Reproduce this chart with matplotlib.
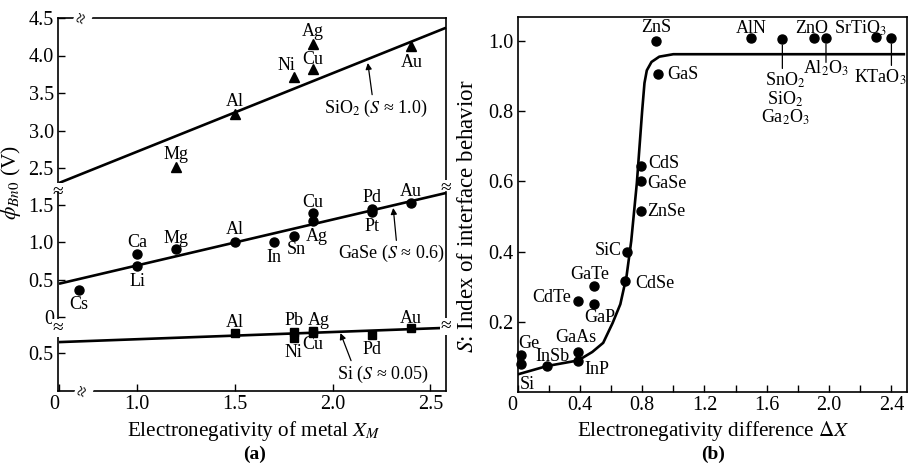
import matplotlib.pyplot as plt
import numpy as np

plt.rcParams['font.family'] = ['Liberation Serif', 'DejaVu Serif']
plt.rcParams['mathtext.fontset'] = 'stix'
plt.rcParams['font.size'] = 14.5
plt.rcParams['axes.linewidth'] = 1.2

# ---------------- (a) barrier height vs metal electronegativity
xm_sio2 = [1.2, 1.5, 1.8, 1.9, 1.9, 2.4]
phi_sio2 = [2.51, 3.22, 3.71, 3.82, 4.16, 4.13]
names_sio2 = ['Mg', 'Al', 'Ni', 'Cu', 'Ag', 'Au']

xm_gase = [0.7, 1.0, 1.0, 1.2, 1.5, 1.7, 1.8, 1.9, 1.9, 2.2, 2.2, 2.4]
phi_gase = [0.37, 0.68, 0.84, 0.91, 1.01, 1.0, 1.09, 1.39, 1.29, 1.45, 1.40, 1.53]
names_gase = ['Cs', 'Li', 'Ca', 'Mg', 'Al', 'In', 'Sn', 'Cu', 'Ag', 'Pd', 'Pt', 'Au']

xm_si = [1.5, 1.8, 1.8, 1.9, 1.9, 2.2, 2.4]
phi_si = [0.76, 0.78, 0.70, 0.79, 0.77, 0.74, 0.83]
names_si = ['Al', 'Pb', 'Ni', 'Ag', 'Cu', 'Pd', 'Au']

fit_x = [0.6, 2.58]
fit_sio2 = [2.30, 4.37]
fit_gase = [0.45, 1.66]
fit_si = [0.645, 0.835]

# ---------------- (b) index of interface behavior
dx_b = [0.89, 0.90, 1.50, 1.70, 1.90, 1.98, 2.30, 2.40, 0.79, 0.79, 0.79, 0.70,
        0.69, 0.49, 0.39, 0.49, 0.39, 0.39, 0.19, 0.02, 0.02]
s_b = [1.0, 0.905, 1.007, 1.004, 1.007, 1.007, 1.01, 1.007, 0.643, 0.60, 0.515, 0.40,
       0.316, 0.302, 0.26, 0.25, 0.115, 0.087, 0.075, 0.105, 0.08]
names_b = ['ZnS', 'GaS', 'AlN', 'SnO$_2$\nSiO$_2$\nGa$_2$O$_3$', 'ZnO', 'Al$_2$O$_3$',
           'SrTiO$_3$', 'KTaO$_3$', 'CdS', 'GaSe', 'ZnSe', 'SiC', 'CdSe', 'GaTe', 'CdTe',
           'GaP', 'GaAs', 'InP', 'InSb', 'Ge', 'Si']

curve_x = [0.0, 0.19, 0.39, 0.48, 0.55, 0.61, 0.66, 0.70, 0.73, 0.766, 0.80, 0.815,
           0.83, 0.86, 0.91, 1.0, 2.48]
curve_s = [0.05, 0.074, 0.09, 0.114, 0.14, 0.196, 0.25, 0.33, 0.43, 0.595, 0.80, 0.88,
           0.916, 0.94, 0.955, 0.962, 0.962]

# label offsets in pixels (dx, dy)
off_sio2 = [(0, 13), (0, 13), (-7, 12), (0, 10), (0, 12), (1, -17)]
off_gase = [(0, -15), (0, -15), (0, 12), (0, 11), (0, 12), (0, -15), (3, -14),
            (0, 11), (4, -16), (0, 11), (0, -14), (0, 11)]
off_si = [(0, 11), (0, 11), (0, -15), (6, 11), (0, -12), (0, -15), (0, 10)]
lab_b = {
    'ZnS': (0, 13, 'center', 'center'), 'GaS': (10, 0, 'left', 'center'),
    'AlN': (0, 10, 'center', 'center'), 'ZnO': (-2, 10, 'center', 'center'),
    'SrTiO$_3$': (-16, 9, 'center', 'center'),
    'SnO$_2$\nSiO$_2$\nGa$_2$O$_3$': (3, -31, 'center', 'top'),
    'Al$_2$O$_3$': (0, -30, 'center', 'center'), 'KTaO$_3$': (-11, -39, 'center', 'center'),
    'CdS': (8, 3, 'left', 'center'), 'GaSe': (7, -2, 'left', 'center'),
    'ZnSe': (7, 0, 'left', 'center'), 'SiC': (-5, 1, 'right', 'center'),
    'CdSe': (10, -2, 'left', 'center'), 'GaTe': (-4, 11, 'center', 'center'),
    'CdTe': (-7, 3, 'right', 'center'), 'GaP': (6, -13, 'center', 'center'),
    'GaAs': (-2, 14, 'center', 'center'), 'InP': (6, -8, 'left', 'center'),
    'InSb': (5, 9, 'center', 'center'), 'Ge': (-2, 12, 'left', 'center'),
    'Si': (-1, -21, 'left', 'center'),
}
leaders = {'SnO$_2$\nSiO$_2$\nGa$_2$O$_3$': 29, 'Al$_2$O$_3$': 24, 'KTaO$_3$': 27}

W, H = 911, 463
fig = plt.figure(figsize=(W / 100, H / 100), dpi=100)


def box(l, t, r, b):
    return [l / W, 1 - b / H, (r - l) / W, (b - t) / H]


ax_up = fig.add_axes(box(58, 18, 446, 192))
ax_mid = fig.add_axes(box(58, 192, 446, 328))
ax_lo = fig.add_axes(box(58, 328, 446, 391))
ax_b = fig.add_axes(box(517.5, 17, 907, 392))

for ax in (ax_up, ax_mid, ax_lo):
    ax.set_xlim(0.595, 2.58)
    ax.patch.set_alpha(0)
    ax.tick_params(direction='in', length=5, width=1, pad=3)
ax_up.set_ylim(2.18, 4.5)
ax_mid.set_ylim(-0.14, 1.673)
ax_lo.set_ylim(-0.007, 0.833)
ax_up.spines['bottom'].set_visible(False)
ax_mid.spines['top'].set_visible(False)
ax_mid.spines['bottom'].set_visible(False)
ax_lo.spines['top'].set_visible(False)
ax_up.set_xticks([])
ax_mid.set_xticks([])
ax_up.set_yticks([2.5, 3.0, 3.5, 4.0, 4.5], labels=['2.5', '3.0', '3.5', '4.0', '4.5'])
ax_mid.set_yticks([0, 0.5, 1.0, 1.5], labels=['0', '0.5', '1.0', '1.5'])
ax_lo.set_yticks([0.5], labels=['0.5'])
ax_lo.set_xticks([0.6, 1.0, 1.5, 2.0, 2.5], labels=['0', '1.0', '1.5', '2.0', '2.5'])
ax_lo.get_xticklabels()[0].set_ha('right')

sets = [(ax_up, xm_sio2, phi_sio2, names_sio2, off_sio2, fit_sio2, '^', 7),
        (ax_mid, xm_gase, phi_gase, names_gase, off_gase, fit_gase, 'o', 6.5),
        (ax_lo, xm_si, phi_si, names_si, off_si, fit_si, 's', 5.8)]
for ax, xs, ys, names, offs, fit, mk, ms in sets:
    ax.plot(fit_x, fit, color='k', lw=1.9, clip_on=False, solid_capstyle='butt')
    ax.plot(xs, ys, mk, color='k', ms=ms, clip_on=False)
    for x, y, n, (ox, oy) in zip(xs, ys, names, offs):
        ax.annotate(n, (x, y), xytext=(ox, oy), textcoords='offset pixels',
                    ha='center', va='center', fontsize=13)

arrow = dict(arrowstyle='-|>', color='k', lw=0.9, mutation_scale=9, shrinkA=0, shrinkB=0)
ax_up.annotate('SiO$_2$ ($S$ \u2248 1.0)', xy=(2.18, 3.90), xytext=(2.22, 3.30),
               ha='center', va='center', fontsize=13,
               arrowprops=dict(arrow, relpos=(0.47, 1)))
ax_mid.annotate('GaSe ($S$ \u2248 0.6)', xy=(2.31, 1.46), xytext=(2.30, 0.85),
                ha='center', va='center', fontsize=13,
                arrowprops=dict(arrow, relpos=(0.55, 1)))
ax_lo.annotate('Si ($S$ \u2248 0.05)', xy=(2.04, 0.765), xytext=(2.26, 0.22),
               ha='center', va='center', fontsize=13,
               arrowprops=dict(arrow, relpos=(0.16, 1)))

# axis break marks
brk = dict(ha='center', va='center', fontsize=14,
           bbox=dict(facecolor='white', edgecolor='none', pad=0.2))
ax_up.text(0, 0, '\u2248', transform=ax_up.transAxes, **brk)
ax_lo.text(0, 1, '\u2248', transform=ax_lo.transAxes, **brk)
ax_up.text(1, 0.02, '\u2248', transform=ax_up.transAxes, **brk)
ax_lo.text(1, 1.02, '\u2248', transform=ax_lo.transAxes, **brk)
ax_up.text(0.064, 1, '\u2248', transform=ax_up.transAxes, rotation=70, **brk)
ax_lo.text(0.067, 0, '\u2248', transform=ax_lo.transAxes, rotation=70, **brk)

fig.text(11 / W, 1 - 182 / H, '$\\phi_{Bn0}$ (V)', rotation=90, ha='center', va='center',
         fontsize=15.5)
fig.text(254 / W, 1 - 431 / H, 'Electronegativity of metal $X_M$', ha='center',
         va='center', fontsize=15.2)
fig.text(255 / W, 1 - 454 / H, '(a)', ha='center', va='center', fontsize=14,
         fontweight='bold')

# ---------------- (b)
ax_b.set_xlim(0, 2.5)
ax_b.set_ylim(0, 1.068)
ax_b.plot(curve_x, curve_s, color='k', lw=1.9, solid_joinstyle='round')
ax_b.plot(dx_b, s_b, 'o', color='k', ms=6.5, clip_on=False)
for x, y, n in zip(dx_b, s_b, names_b):
    ox, oy, ha, va = lab_b[n]
    ax_b.annotate(n, (x, y), xytext=(ox, oy), textcoords='offset pixels',
                  ha=ha, va=va, fontsize=13, linespacing=0.95)
    if n in leaders:
        ax_b.annotate('', (x, y), xytext=(0, -leaders[n]), textcoords='offset pixels',
                      arrowprops=dict(arrowstyle='-', color='k', lw=0.9,
                                      shrinkA=0, shrinkB=4))
ax_b.set_xticks(np.arange(0, 2.41, 0.4),
                labels=['0', '0.4', '0.8', '1.2', '1.6', '2.0', '2.4'])
ax_b.set_xticks(np.arange(0, 2.5, 0.2), minor=True)
ax_b.set_yticks([0.2, 0.4, 0.6, 0.8, 1.0], labels=['0.2', '0.4', '0.6', '0.8', '1.0'])
ax_b.tick_params(which='both', direction='in', length=5, width=1, pad=3)
ax_b.get_xticklabels()[0].set_ha('right')

fig.text(467 / W, 1 - 216 / H, '$S$: Index of interface behavior', rotation=90,
         ha='center', va='center', fontsize=16.5)
fig.text(713 / W, 1 - 431 / H, 'Electronegativity difference $\\Delta X$', ha='center',
         va='center', fontsize=15.2)
fig.text(713 / W, 1 - 454 / H, '(b)', ha='center', va='center', fontsize=14,
         fontweight='bold')

fig.savefig('out.png', dpi=100)
